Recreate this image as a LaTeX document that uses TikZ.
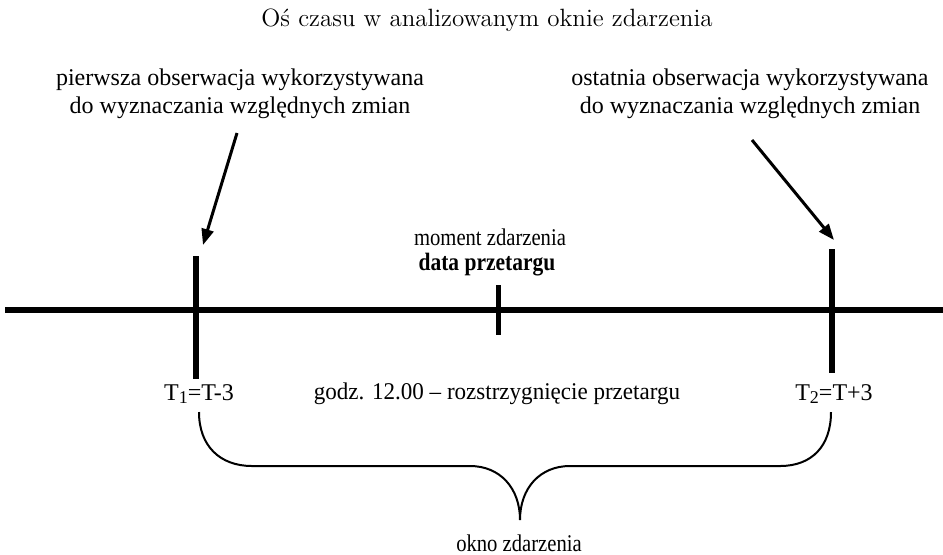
\documentclass[tikz,border=0pt]{standalone}
\usepackage{fontspec}
\setmainfont{Liberation Serif}
\newfontfamily\lmfont{Latin Modern Roman}
\newfontfamily\narrowfont[FakeStretch=0.86]{Liberation Serif}
\newfontfamily\slimfont[FakeStretch=0.96]{Liberation Serif}
\newcommand{\lowsub}[1]{\raisebox{-0.35ex}{\fontsize{9}{9}\selectfont #1}}
\usetikzlibrary{positioning, arrows.meta}

\begin{document}
\begin{tikzpicture}[
    x=0.5pt, y=-0.5pt,
    >={Triangle[length=8pt, width=6pt]},
    every node/.style={font=\fontsize{12}{14}\selectfont, inner sep=0pt},
    note/.style={align=center},
    tick/.style={line width=3pt},
    pointer/.style={->, line width=1.5pt}
]
\useasboundingbox (0,0) rectangle (943,554);

% Nodes
\node (title) at (487,20) {\lmfont\fontsize{12.5}{15}\selectfont Oś czasu w analizowanym oknie zdarzenia};
\node[note] (first) at (240,94) {pierwsza obserwacja wykorzystywana\\do wyznaczania względnych zmian};
\node[note] (last) at (750,94) {ostatnia obserwacja wykorzystywana\\do wyznaczania względnych zmian};
\node (moment) at (490,237) {\narrowfont moment zdarzenia};
\node (date) at (487,265) {\narrowfont\bfseries\fontsize{12.5}{14}\selectfont data przetargu};
\node (T1) at (199,394) {T\lowsub{1}=T-3};
\node (hour) at (497,394) {\slimfont godz. 12.00 – rozstrzygnięcie przetargu};
\node (T2) at (834,394) {T\lowsub{2}=T+3};
\node (window) at (519,543) {\narrowfont okno zdarzenia};

% Axis and ticks
\coordinate (axisL) at (5,310);
\coordinate (axisR) at (943,310);
\coordinate (t1) at (196,310);
\coordinate (t0) at (498,310);
\coordinate (t2) at (832,310);
\draw[line width=3pt] (axisL) -- (axisR);
\draw[tick] ([yshift=27pt]t1) -- ([yshift=-34.5pt]t1);
\draw[tick, line width=2.5pt] ([yshift=12.5pt]t0) -- ([yshift=-12.5pt]t0);
\draw[tick] ([yshift=30.5pt]t2) -- ([yshift=-31.5pt]t2);

% Arrows
\coordinate (a1) at (237,133);
\coordinate (b1) at (203,245);
\coordinate (a2) at (752,140);
\coordinate (b2) at (834,240);
\draw[pointer] (a1) -- (b1);
\draw[pointer] (a2) -- (b2);

% Brace
\draw[line width=1pt] (199,412) .. controls (199,446) and (220,466) .. (252,466)
    -- (470,466) .. controls (500,466) and (520,488) .. (520,520)
    .. controls (520,488) and (540,466) .. (570,466)
    -- (780,466) .. controls (812,466) and (831,446) .. (831,412);

\end{tikzpicture}
\end{document}
